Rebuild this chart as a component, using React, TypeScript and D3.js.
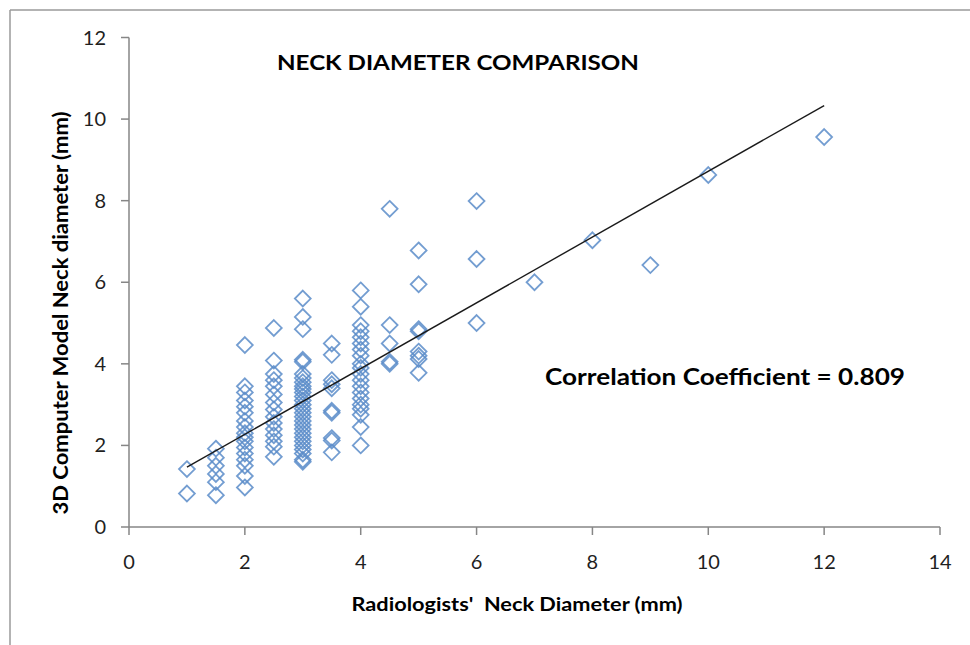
import React from "react";
import * as d3 from "d3";

const xTicks = [0, 2, 4, 6, 8, 10, 12, 14];
const yTicks = [0, 2, 4, 6, 8, 10, 12];

// Each group: radiologists' value and the 3D model values measured for it
const groupX = [1, 1.5, 2, 2.5, 3, 3.5, 4, 4.5, 5, 6, 7, 8, 9, 10, 12];
const groupY: number[][] = [
  [1.42, 0.82],
  [1.92, 1.7, 1.5, 1.3, 1.1, 0.78],
  [4.46, 3.45, 3.3, 3.1, 2.95, 2.8, 2.6, 2.45, 2.3, 2.2, 2.1, 1.95, 1.8, 1.65, 1.5, 1.25, 0.97],
  [4.88, 4.08, 3.75, 3.6, 3.45, 3.25, 3.05, 2.88, 2.7, 2.55, 2.4, 2.25, 2.1, 1.97, 1.72],
  [5.6, 5.15, 4.85, 4.1, 4.05, 3.75, 3.65, 3.55, 3.45, 3.38, 3.3, 3.2, 3.1, 3.0, 2.9, 2.8, 2.7, 2.6, 2.5, 2.4, 2.3, 2.2, 2.1, 2.0, 1.9, 1.8, 1.65, 1.6],
  [4.5, 4.22, 3.6, 3.5, 3.4, 2.85, 2.8, 2.18, 2.12, 1.83],
  [5.8, 5.4, 4.95, 4.8, 4.65, 4.5, 4.35, 4.2, 4.0, 3.9, 3.75, 3.6, 3.45, 3.3, 3.15, 3.0, 2.9, 2.75, 2.45, 2.0],
  [7.8, 4.95, 4.5, 4.05, 4.0],
  [6.78, 5.95, 4.85, 4.8, 4.3, 4.2, 4.12, 3.78],
  [7.99, 6.57, 5.0],
  [6.0],
  [7.03],
  [6.42],
  [8.63],
  [9.56],
];

// Linear trend line
const trendSlope = 0.806;
const trendIntercept = 0.66;
const trendRange = [1, 12];

const titleText = "NECK DIAMETER COMPARISON";
const corrText = "Correlation Coefficient = 0.809";
const xTitle = "Radiologists'  Neck Diameter (mm)";
const yTitle = "3D Computer Model Neck diameter (mm)";

const FONT = "Lato, 'Open Sans', sans-serif";

export default function App() {
  React.useEffect(() => {
    document.body.style.margin = "0";
  }, []);

  const x = d3.scaleLinear().domain([0, 14]).range([129, 940]);
  const y = d3.scaleLinear().domain([0, 12]).range([527, 37.5]);

  const points = groupX.flatMap((gx, i) => groupY[i].map((gy) => ({ x: gx, y: gy })));
  const diamond = d3.symbol().type(d3.symbolDiamond2).size(160)();
  const line = d3
    .line<number>()
    .x((d) => x(d))
    .y((d) => y(trendIntercept + trendSlope * d));

  const axisColor = "#868686";

  return (
    <svg width={970} height={645} style={{ display: "block", background: "#fff" }}>
      {/* frame */}
      <line x1={10} y1={10} x2={970} y2={10} stroke="#9a9a9a" strokeWidth={1.5} />
      <line x1={10} y1={10} x2={10} y2={645} stroke="#9a9a9a" strokeWidth={1.5} />

      {/* axes */}
      <line x1={x(0)} y1={y(0)} x2={x(14)} y2={y(0)} stroke={axisColor} strokeWidth={1.5} />
      <line x1={x(0)} y1={y(0)} x2={x(0)} y2={y(12)} stroke={axisColor} strokeWidth={1.5} />
      {xTicks.map((t) => (
        <g key={"x" + t}>
          <line x1={x(t)} x2={x(t)} y1={y(0)} y2={y(0) + 8} stroke={axisColor} strokeWidth={1.5} />
          <text x={x(t)} y={y(0) + 42} textAnchor="middle" fontFamily={FONT} fontSize={20} fill="#1f1f1f">
            {t}
          </text>
        </g>
      ))}
      {yTicks.map((t) => (
        <g key={"y" + t}>
          <line x1={x(0) - 8} x2={x(0)} y1={y(t)} y2={y(t)} stroke={axisColor} strokeWidth={1.5} />
          <text x={106} y={y(t)} dy="0.35em" textAnchor="end" fontFamily={FONT} fontSize={20} fill="#1f1f1f">
            {t}
          </text>
        </g>
      ))}

      {/* points */}
      {points.map((p, i) => (
        <path
          key={i}
          d={diamond || ""}
          transform={`translate(${x(p.x)},${y(p.y)})`}
          fill="none"
          stroke="#5B8CC9"
          strokeWidth={1.8}
          strokeOpacity={0.85}
        />
      ))}

      {/* trend line */}
      <path d={line(trendRange) || ""} stroke="#1a1a1a" strokeWidth={1.4} fill="none" />

      {/* texts */}
      <text x={458} y={70} textAnchor="middle" fontFamily={FONT} fontWeight="bold" fontSize={21} fill="#000"
        textLength={362} lengthAdjust="spacingAndGlyphs">
        {titleText}
      </text>
      <text x={725} y={385} textAnchor="middle" fontFamily={FONT} fontWeight="bold" fontSize={23} fill="#000"
        textLength={360} lengthAdjust="spacingAndGlyphs">
        {corrText}
      </text>
      <text x={517} y={611} textAnchor="middle" fontFamily={FONT} fontWeight="bold" fontSize={19} fill="#000"
        textLength={331} lengthAdjust="spacingAndGlyphs" style={{ whiteSpace: "pre" }}>
        {xTitle}
      </text>
      <text transform="translate(68,313) rotate(-90)" textAnchor="middle" fontFamily={FONT} fontWeight="bold"
        fontSize={20} fill="#000" textLength={403} lengthAdjust="spacingAndGlyphs">
        {yTitle}
      </text>
    </svg>
  );
}
